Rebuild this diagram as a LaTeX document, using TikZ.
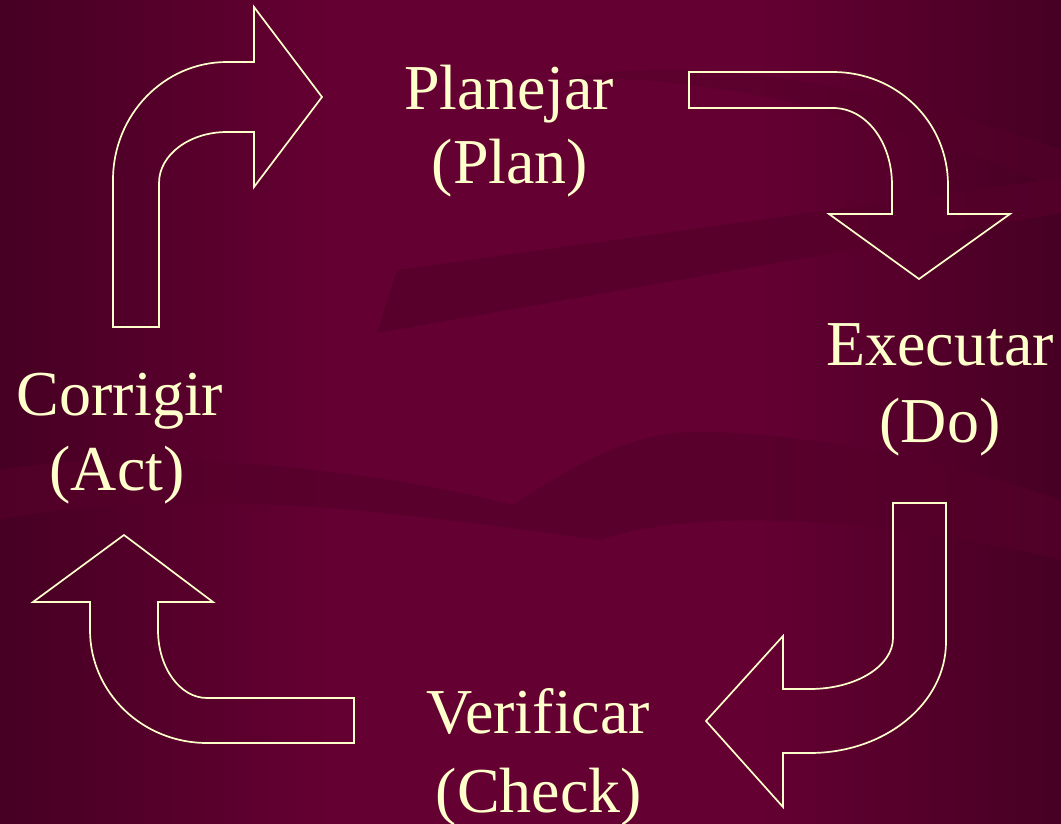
\documentclass[tikz,border=0pt]{standalone}
\usepackage{fontspec}
\newfontfamily\lblfont{Liberation Serif}
\definecolor{bgdark}{HTML}{460023}
\definecolor{bglight}{HTML}{640032}
\definecolor{bandc}{HTML}{55002A}
\definecolor{cream}{HTML}{FFFFCC}
\tikzset{
  bentarrow/.style={draw=cream, line width=1.7pt, line join=miter},
  lbl/.style={text=cream, font=\lblfont\fontsize{64}{76}\selectfont, inner sep=0pt, anchor=base},
  bgband/.style={fill=bandc, draw=none}
}
\begin{document}
\begin{tikzpicture}[x=1pt,y=-1pt]
\useasboundingbox (0,0) rectangle (1061,824);
% background
\fill[bglight] (0,0) rectangle (1061,824);
\shade[left color=bgdark, right color=bglight] (0,0) rectangle (330,824);
\shade[left color=bglight, right color=bgdark] (760,0) rectangle (1061,824);
\fill[bgband, opacity=0.8] (397,270) -- (1061,178) -- (1061,213) -- (377,333) -- cycle;
\fill[bgband, opacity=0.7] (0,470) .. controls (150,445) and (380,470) .. (513,505)
  .. controls (580,460) and (640,430) .. (700,432)
  .. controls (800,432) and (950,460) .. (1061,500) -- (1061,560)
  .. controls (900,520) and (700,505) .. (600,540)
  .. controls (450,520) and (200,480) .. (0,520) -- cycle;
\fill[bgband, opacity=0.5] (560,80) .. controls (700,70) and (900,120) .. (1061,190) -- (1061,150) .. controls (900,90) and (700,50) .. (560,80) -- cycle;

% arrow 1: Act -> Plan
\draw[bentarrow] (113,327) -- (113,180)
  .. controls (113,114.8) and (164,62) .. (227,62)
  -- (254,62) -- (254,7) -- (322,97) -- (254,187) -- (254,132) -- (227,132)
  .. controls (189.4,132) and (159,154.8) .. (159,183)
  -- (159,327) -- cycle;
% arrow 2: Plan -> Do
\draw[bentarrow] (689,72) -- (833,72)
  .. controls (896.5,72) and (948,121.5) .. (948,185)
  -- (948,214) -- (1010,214) -- (919,279) -- (829,214) -- (892,214) -- (892,185)
  .. controls (892,141.3) and (865.6,108) .. (833,108)
  -- (689,108) -- cycle;
% arrow 3: Do -> Check
\draw[bentarrow] (893,503) -- (946,503) -- (946,642)
  .. controls (946,703.3) and (885.1,753) .. (810,753)
  -- (783,753) -- (783,807) -- (706,721) -- (783,636) -- (783,689) -- (810,689)
  .. controls (855.8,689) and (893,666.2) .. (893,638)
  -- cycle;
% arrow 4: Check -> Act
\draw[bentarrow] (354,698) -- (354,743) -- (207,743)
  .. controls (142.4,743) and (90,692.4) .. (90,630)
  -- (90,602) -- (33,602) -- (124,535) -- (213,602) -- (158,602) -- (158,630)
  .. controls (158,667.6) and (179.9,698) .. (207,698)
  -- cycle;

% labels
\node[lbl] (plana) at (509,110) {Planejar};
\node[lbl] (planb) at (510,184) {(Plan)};
\node[lbl] (doa) at (940,365) {Executar};
\node[lbl] (dob) at (940,442) {(Do)};
\node[lbl] (acta) at (120,415) {Corrigir};
\node[lbl] (actb) at (117,490) {(Act)};
\node[lbl] (checka) at (538,733) {Verificar};
\node[lbl] (checkb) at (539,812) {(Check)};
\end{tikzpicture}
\end{document}
